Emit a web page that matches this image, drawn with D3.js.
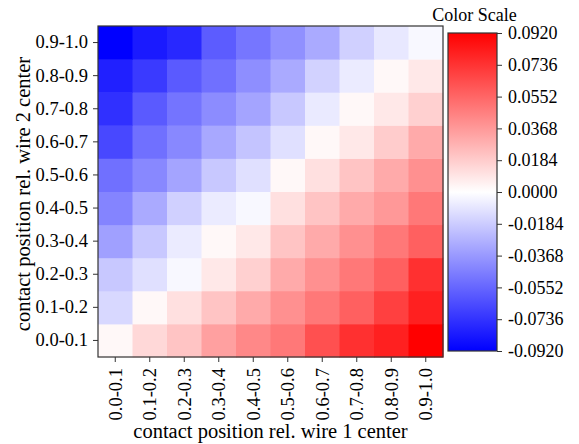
<!DOCTYPE html>
<html>
<head>
<meta charset="utf-8">
<script src="https://cdn.jsdelivr.net/npm/d3@7"></script>
<style>
  body { margin: 0; background: #fff; }
</style>
</head>
<body>
<svg id="chart" width="579" height="444"></svg>
<script>
// tick labels
const xLabels = ["0.0-0.1", "0.1-0.2", "0.2-0.3", "0.3-0.4", "0.4-0.5", "0.5-0.6", "0.6-0.7", "0.7-0.8", "0.8-0.9", "0.9-1.0"];
const yLabels = ["0.0-0.1", "0.1-0.2", "0.2-0.3", "0.3-0.4", "0.4-0.5", "0.5-0.6", "0.6-0.7", "0.7-0.8", "0.8-0.9", "0.9-1.0"];

// one row per wire 2 bin (y), values across wire 1 bins (x)
const row00 = [0.0025, 0.0141, 0.0213, 0.0343, 0.0429, 0.0487, 0.0631, 0.0747, 0.0805, 0.0920];
const row01 = [-0.0141, 0.0025, 0.0112, 0.0213, 0.0307, 0.0401, 0.0487, 0.0574, 0.0689, 0.0805];
const row02 = [-0.0198, -0.0112, -0.0025, 0.0083, 0.0170, 0.0307, 0.0401, 0.0487, 0.0574, 0.0747];
const row03 = [-0.0343, -0.0198, -0.0072, 0.0025, 0.0083, 0.0213, 0.0307, 0.0401, 0.0487, 0.0574];
const row04 = [-0.0444, -0.0307, -0.0170, -0.0072, -0.0025, 0.0112, 0.0213, 0.0307, 0.0372, 0.0487];
const row05 = [-0.0516, -0.0429, -0.0328, -0.0198, -0.0112, 0.0025, 0.0112, 0.0213, 0.0307, 0.0401];
const row06 = [-0.0660, -0.0516, -0.0429, -0.0314, -0.0213, -0.0112, 0.0025, 0.0083, 0.0184, 0.0307];
const row07 = [-0.0747, -0.0595, -0.0501, -0.0415, -0.0328, -0.0198, -0.0076, 0.0025, 0.0083, 0.0170];
const row08 = [-0.0805, -0.0710, -0.0595, -0.0516, -0.0408, -0.0307, -0.0162, -0.0072, 0.0025, 0.0083];
const row09 = [-0.0920, -0.0826, -0.0775, -0.0589, -0.0494, -0.0401, -0.0307, -0.0170, -0.0083, -0.0025];
const rows = [row00, row01, row02, row03, row04, row05, row06, row07, row08, row09];

const vMin = -0.092, vMax = 0.092;
const cbTicks = d3.range(11).map(i => vMin + i * 0.0184);

const FONT = "'Liberation Serif', 'DejaVu Serif', serif";
const svg = d3.select("#chart").attr("font-family", FONT);
const plotL = 98, plotR = 443, plotT = 26, plotB = 357;
const cbLeft = 448, cbRight = 497, cbTop = 33, cbBottom = 351;

const x = d3.scaleBand().domain(xLabels).range([plotL, plotR]);
const y = d3.scaleBand().domain(yLabels).range([plotB, plotT]);
// bwr
const color = d3.scaleLinear().domain([vMin, 0, vMax]).range(["#0000ff", "#ffffff", "#ff0000"]);

const cells = [];
rows.forEach((r, j) => r.forEach((v, i) => cells.push({xl: xLabels[i], yl: yLabels[j], v: v})));

svg.append("g").selectAll("rect")
  .data(cells)
  .join("rect")
  .attr("x", d => x(d.xl))
  .attr("y", d => y(d.yl))
  .attr("width", x.bandwidth() + 0.5)
  .attr("height", y.bandwidth() + 0.5)
  .attr("fill", d => color(d.v));

svg.append("rect")
  .attr("x", plotL).attr("y", plotT)
  .attr("width", plotR - plotL).attr("height", plotB - plotT)
  .attr("fill", "none").attr("stroke", "#333").attr("stroke-width", 1.2);

const yAxis = svg.append("g")
  .attr("transform", `translate(${plotL},0)`)
  .call(d3.axisLeft(y).tickSize(5).tickPadding(5));
yAxis.attr("font-family", FONT).attr("font-size", 18.5);
yAxis.select(".domain").remove();
yAxis.selectAll("line").attr("stroke", "#333");

const xAxis = svg.append("g")
  .attr("transform", `translate(0,${plotB})`)
  .call(d3.axisBottom(x).tickSize(5).tickPadding(5));
xAxis.attr("font-family", FONT).attr("font-size", 18.5);
xAxis.select(".domain").remove();
xAxis.selectAll("line").attr("stroke", "#333");
xAxis.selectAll("text")
  .attr("transform", "rotate(-90)")
  .attr("x", -11)
  .attr("y", 0)
  .attr("dy", "0.35em")
  .attr("text-anchor", "end");

svg.append("text")
  .attr("x", (plotL + plotR) / 2)
  .attr("y", 438)
  .attr("text-anchor", "middle")
  .attr("font-size", 20.5)
  .text("contact position rel. wire 1 center");

svg.append("text")
  .attr("transform", `translate(30,194) rotate(-90)`)
  .attr("text-anchor", "middle")
  .attr("font-size", 20.5)
  .text("contact position rel. wire 2 center");

// colour bar
const defs = svg.append("defs");
const grad = defs.append("linearGradient")
  .attr("id", "cbGrad")
  .attr("x1", 0).attr("y1", 1).attr("x2", 0).attr("y2", 0);
grad.selectAll("stop")
  .data([vMin, 0, vMax])
  .join("stop")
  .attr("offset", d => (d - vMin) / (vMax - vMin))
  .attr("stop-color", d => color(d));

const cbScale = d3.scaleLinear().domain([vMin, vMax]).range([cbBottom, cbTop]);

svg.append("rect")
  .attr("x", cbLeft).attr("y", cbTop)
  .attr("width", cbRight - cbLeft).attr("height", cbBottom - cbTop)
  .attr("fill", "url(#cbGrad)")
  .attr("stroke", "#333").attr("stroke-width", 1.2);

const cbAxis = svg.append("g")
  .attr("transform", `translate(${cbRight},0)`)
  .call(d3.axisRight(cbScale).tickValues(cbTicks).tickSize(5).tickPadding(6)
    .tickFormat(d => (Math.abs(d) < 1e-9 ? 0 : d).toFixed(4)));
cbAxis.attr("font-family", FONT).attr("font-size", 18);
cbAxis.select(".domain").remove();
cbAxis.selectAll("line").attr("stroke", "#333");

svg.append("text")
  .attr("x", (cbLeft + cbRight) / 2 + 2)
  .attr("y", 21)
  .attr("text-anchor", "middle")
  .attr("font-size", 18)
  .text("Color Scale");
</script>
</body>
</html>
